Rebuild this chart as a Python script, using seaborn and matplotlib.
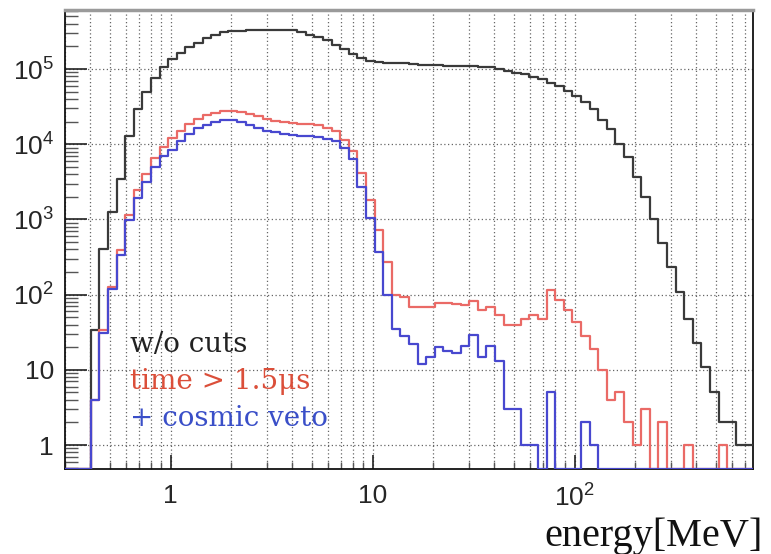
import numpy as np
import pandas as pd
import matplotlib
matplotlib.use("Agg")
import matplotlib.pyplot as plt
import seaborn as sns
from matplotlib.ticker import FixedLocator, FixedFormatter, LogLocator, NullFormatter

# ---------------- data ----------------
E_MIN, E_MAX, N_BINS = 0.3, 765.0, 80
edges = np.geomspace(E_MIN, E_MAX, N_BINS + 1)

counts_all = [
    0, 0, 0, 34, 400, 1250, 3500, 13000, 29000, 50000,
    76000, 107000, 135000, 166000, 195000, 224000, 257000, 282000, 309000, 316000,
    324000, 331000, 331000, 331000, 331000, 331000, 331000, 309000, 282000, 269000,
    240000, 209000, 182000, 158000, 141000, 129000, 123000, 120000, 120000, 119000,
    118000, 113000, 112000, 112000, 111000, 110000, 110000, 109000, 107000, 105000,
    100000, 95000, 89000, 85000, 79000, 74000, 66000, 59000, 51000, 44000,
    36000, 29000, 21000, 16000, 10200, 6800, 3700, 2000, 1020, 490,
    230, 110, 47, 23, 11, 5, 2, 2, 1, 1,
]
counts_time = [
    0, 0, 0, 4, 34, 125, 390, 1150, 2500, 4000,
    6600, 9300, 12000, 15100, 18600, 21400, 24500, 26300, 27900, 27900,
    26900, 25100, 23400, 21400, 20400, 20000, 19000, 18600, 18600, 18200,
    16200, 14800, 11500, 8100, 4100, 1800, 720, 275, 100, 93,
    68, 68, 68, 78, 78, 74, 72, 83, 63, 68,
    54, 40, 40, 48, 54, 48, 117, 85, 63, 43,
    28, 19, 10, 4, 5, 2, 1, 3, 0, 2,
    0, 0, 1, 0, 0, 0, 1, 0, 0, 0,
]
counts_veto = [
    0, 0, 0, 4, 31, 120, 335, 980, 1950, 3150,
    5000, 6900, 8500, 11200, 13800, 16200, 18200, 19500, 20900, 20900,
    20000, 18200, 16200, 15100, 14500, 13800, 13200, 12900, 12900, 12600,
    11700, 11200, 8900, 6300, 2700, 1050, 370, 100, 35, 28,
    22, 12, 15, 20, 18, 17, 21, 29, 15, 21,
    13, 3, 3, 1, 1, 0, 5, 0, 0, 0,
    2, 1, 0, 0, 0, 0, 0, 0, 0, 0,
    0, 0, 0, 0, 0, 0, 0, 0, 0, 0,
]

series_names = ["w/o cuts", "time > 1.5\u03bcs", "+ cosmic veto"]
series_colors = ["#3a3a3a", "#ea6a66", "#4848cf"]
text_colors = ["#222222", "#db4f3a", "#3a4fc8"]

x_tick_vals = [1, 10, 100]
x_tick_labels = ["1", "10", r"$\mathdefault{10^{2}}$"]
y_tick_vals = [1, 10, 100, 1e3, 1e4, 1e5]
y_tick_labels = ["1", "10", r"$\mathdefault{10^{2}}$", r"$\mathdefault{10^{3}}$",
                 r"$\mathdefault{10^{4}}$", r"$\mathdefault{10^{5}}$"]

YMIN, YMAX = 0.48, 6.1e5

# ---------------- plot ----------------
sns.set_theme(style="ticks")
plt.rcParams["font.family"] = ["Liberation Sans Narrow", "Liberation Sans", "DejaVu Sans"]

W, H = 771, 554
fig = plt.figure(figsize=(W / 100, H / 100), dpi=100)
ax = fig.add_axes([65 / W, 1 - 469 / H, (753 - 65) / W, (469 - 10) / H])
ax.set_xscale("log")
ax.set_yscale("log")

rows = []
for name, vals in zip(series_names, [counts_all, counts_time, counts_veto]):
    v = np.asarray(vals, float)
    v = np.where(v > 0, v, YMIN)
    y = np.append(v, v[-1])
    for e, c in zip(edges, y):
        rows.append((name, e, c))
df = pd.DataFrame(rows, columns=["series", "energy", "count"])

sns.lineplot(data=df, x="energy", y="count", hue="series", hue_order=series_names,
             palette=series_colors, estimator=None, sort=False, drawstyle="steps-post",
             linewidth=1.6, legend=False, ax=ax, zorder=3)

ax.set_xlim(E_MIN, E_MAX)
ax.set_ylim(YMIN, YMAX)
ax.set_xlabel("")
ax.set_ylabel("")

ax.xaxis.set_major_locator(FixedLocator(x_tick_vals))
ax.xaxis.set_major_formatter(FixedFormatter(x_tick_labels))
ax.xaxis.set_minor_locator(LogLocator(base=10, subs=np.arange(2, 10), numticks=20))
ax.xaxis.set_minor_formatter(NullFormatter())
ax.yaxis.set_major_locator(FixedLocator(y_tick_vals))
ax.yaxis.set_major_formatter(FixedFormatter(y_tick_labels))
ax.yaxis.set_minor_locator(LogLocator(base=10, subs=np.arange(2, 10), numticks=20))
ax.yaxis.set_minor_formatter(NullFormatter())

grid_kw = dict(linestyle=(0, (1, 2)), color="#666666", linewidth=0.9)
ax.grid(which="both", axis="x", **grid_kw)
ax.grid(which="major", axis="y", **grid_kw)

ax.tick_params(axis="y", which="major", direction="in", length=16, width=1.2,
               labelsize=19, pad=8, left=True, right=False, color="#222222")
ax.tick_params(axis="y", which="minor", direction="in", length=9, width=1.0,
               left=True, right=False, color="#555555")
ax.tick_params(axis="x", which="major", direction="in", length=10, width=1.2,
               labelsize=19, pad=11, bottom=True, top=False, color="#222222")
ax.tick_params(axis="x", which="minor", direction="in", length=5, width=1.0,
               bottom=True, top=False, color="#555555")

for s in ["left", "bottom", "right"]:
    ax.spines[s].set_color("#111111")
    ax.spines[s].set_linewidth(1.3)
ax.spines["top"].set_color("#9a9a9a")
ax.spines["top"].set_linewidth(2.5)

# legend-like labels
for name, col, ybase in zip(series_names, text_colors, [352, 389, 426]):
    fig.text(130 / W, 1 - ybase / H, name, color=col, fontsize=20,
             family=["DejaVu Serif"], ha="left", va="baseline")

fig.text(763 / W, 1 - 546 / H, "energy[MeV]", color="#111111", fontsize=29,
         family=["Liberation Serif", "DejaVu Serif"], ha="right", va="baseline")

fig.savefig("out.png", dpi=100)
